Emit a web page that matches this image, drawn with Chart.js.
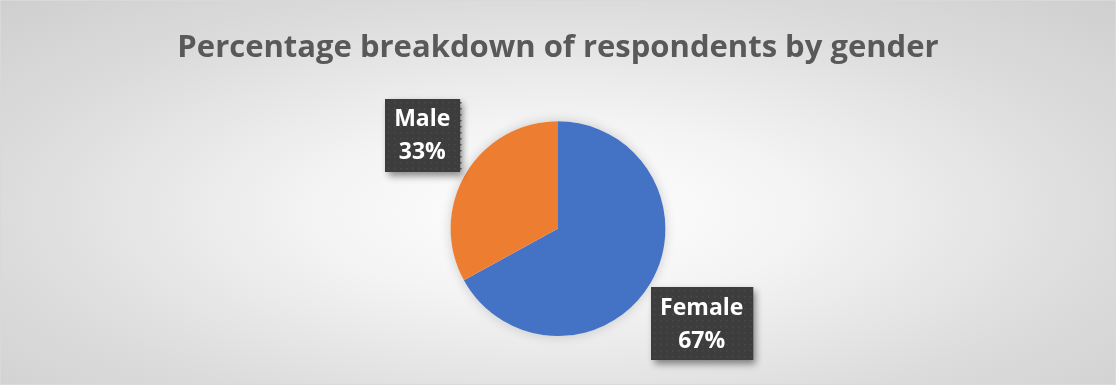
<!DOCTYPE html>
<html>
<head>
<meta charset="utf-8">
<script src="https://cdn.jsdelivr.net/npm/chart.js@4/dist/chart.umd.min.js"></script>
<style>
  html, body { margin: 0; padding: 0; }
  #wrap {
    width: 1116px;
    height: 385px;
    box-sizing: border-box;
    border: 1px solid #d9d9d9;
    background: radial-gradient(ellipse at 50% 55%, #ffffff 0%, #f4f4f4 30%, #dcdcdc 70%, #cfcfcf 100%);
  }
  canvas { display: block; }
</style>
</head>
<body>
<div id="wrap"><canvas id="chart-gender" width="1114" height="383"></canvas></div>
<script>
const categories = ["Female", "Male"];
const shares = [67, 33];
const sliceColors = ["#4472C4", "#ED7D31"];

const TEXT = "#595959";

// dark box labels with a dotted texture, placed outside each slice
const boxLabels = {
  id: "boxLabels",
  afterDatasetsDraw(chart) {
    const ctx = chart.ctx;
    const meta = chart.getDatasetMeta(0);
    meta.data.forEach((arc, i) => {
      const mid = (arc.startAngle + arc.endAngle) / 2 + 0.06;
      const dist = arc.outerRadius * 1.57;
      const cx = arc.x + Math.cos(mid) * dist + 4;
      const cy = arc.y + Math.sin(mid) * dist + 1;
      const line1 = categories[i];
      const line2 = shares[i] + "%";
      ctx.save();
      ctx.font = "bold 23px 'Open Sans', sans-serif";
      const w = Math.max(ctx.measureText(line1).width, ctx.measureText(line2).width) + 19;
      const h = 73;
      const x = Math.round(cx - w / 2);
      const y = Math.round(cy - h / 2);
      ctx.shadowColor = "rgba(0,0,0,0.45)";
      ctx.shadowBlur = 7;
      ctx.shadowOffsetX = 3;
      ctx.shadowOffsetY = 4;
      ctx.fillStyle = "#3d3d3d";
      ctx.fillRect(x, y, w, h);
      ctx.shadowColor = "transparent";
      ctx.fillStyle = "#4b4b4b";
      for (let yy = y + 3; yy < y + h; yy += 6) {
        for (let xx = x + 3; xx < x + w; xx += 6) {
          ctx.fillRect(xx, yy, 1.5, 1.5);
        }
      }
      ctx.fillStyle = "#ffffff";
      ctx.textAlign = "center";
      ctx.textBaseline = "middle";
      ctx.fillText(line1, cx, cy - 16);
      ctx.fillText(line2, cx, cy + 17);
      ctx.restore();
    });
  },
};

// soft haze behind the pie
const pieGlow = {
  id: "pieGlow",
  beforeDatasetsDraw(chart) {
    const arc = chart.getDatasetMeta(0).data[0];
    if (!arc) return;
    const ctx = chart.ctx;
    ctx.save();
    ctx.shadowColor = "rgba(0,0,0,0.18)";
    ctx.shadowBlur = 12;
    ctx.fillStyle = "#ffffff";
    ctx.beginPath();
    ctx.arc(arc.x, arc.y, arc.outerRadius, 0, Math.PI * 2);
    ctx.fill();
    ctx.restore();
  },
};

new Chart(document.getElementById("chart-gender"), {
  type: "pie",
  data: {
    labels: categories,
    datasets: [
      {
        data: shares,
        backgroundColor: sliceColors,
        borderWidth: 0,
      },
    ],
  },
  options: {
    responsive: false,
    animation: false,
    layout: { padding: { top: 0, bottom: 48 } },
    plugins: {
      legend: { display: false },
      tooltip: { enabled: false },
      title: {
        display: true,
        text: "Percentage breakdown of respondents by gender",
        color: TEXT,
        font: { family: "'Open Sans', sans-serif", size: 31, weight: "bold" },
        padding: { top: 29, bottom: 54 },
      },
    },
  },
  plugins: [pieGlow, boxLabels],
});
</script>
</body>
</html>
